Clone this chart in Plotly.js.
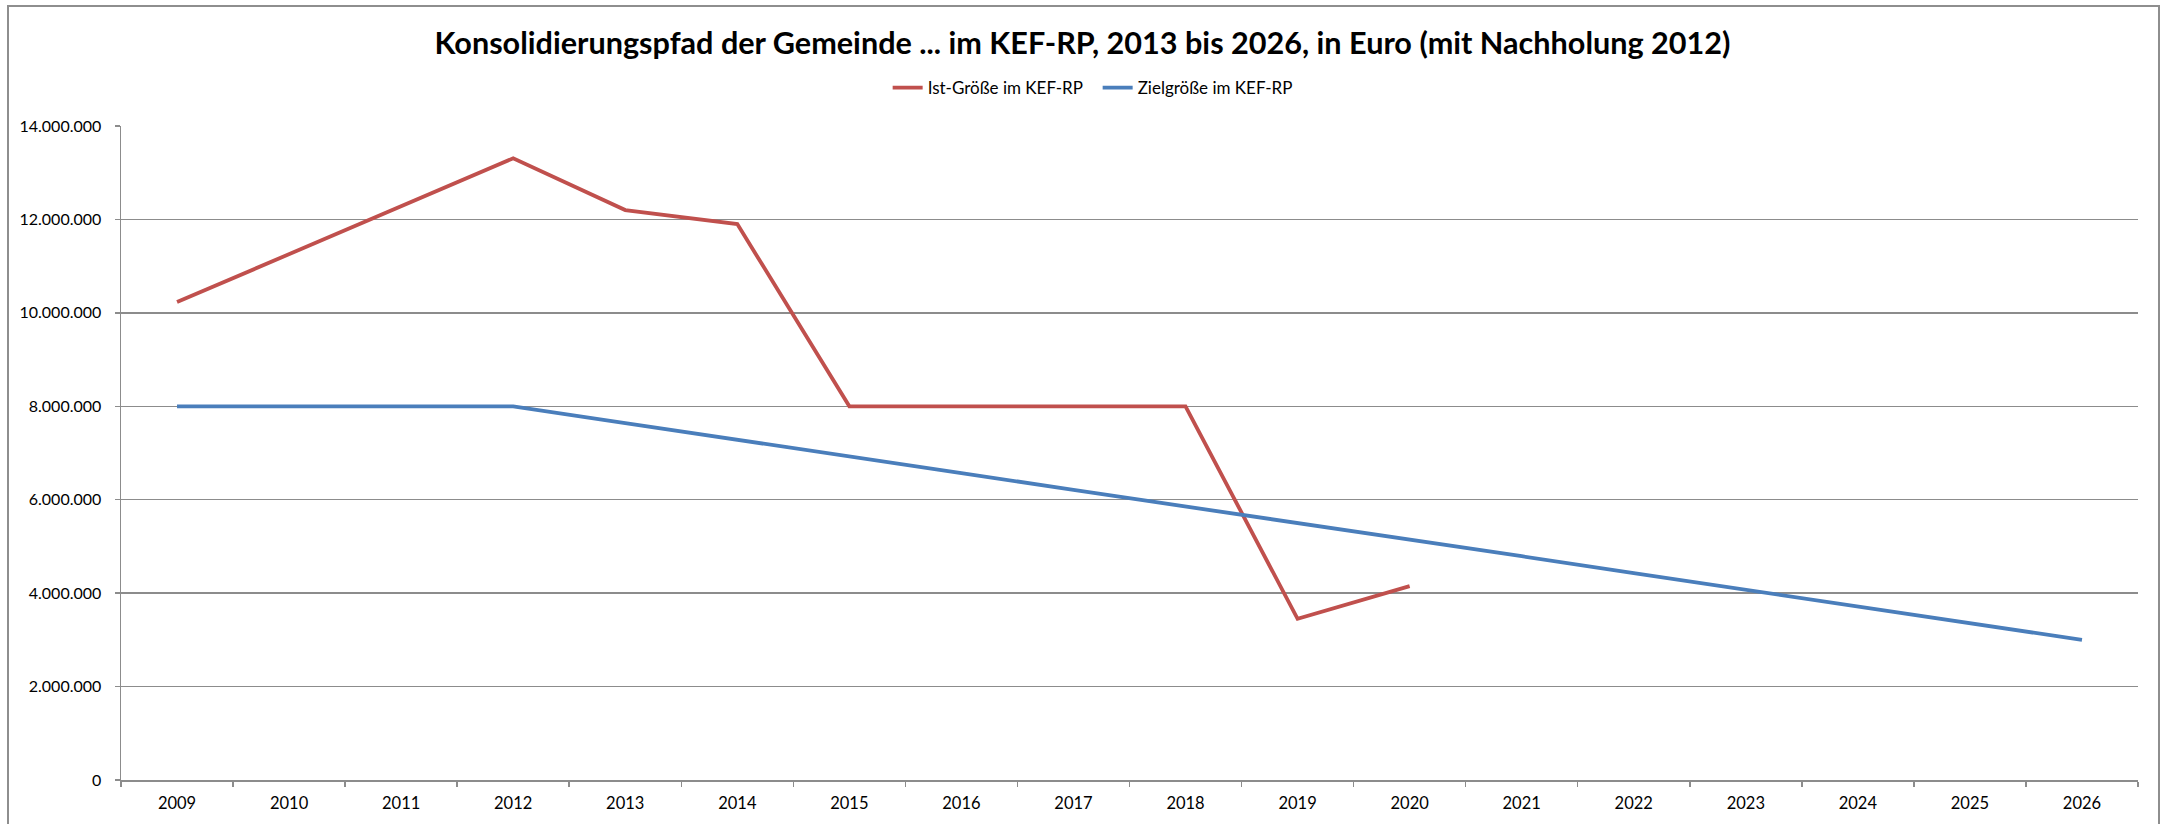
<!DOCTYPE html>
<html>
<head>
<meta charset="utf-8">
<script src="https://cdn.plot.ly/plotly-3.0.1.min.js"></script>
<style>
  html, body { margin: 0; padding: 0; background: #fff; overflow: hidden; }
  #wrap { position: relative; width: 2165px; height: 824px; }
  #chart { width: 2165px; height: 824px; }
  #frame { position: absolute; left: 7px; top: 5px; width: 2153px; height: 900px;
           border: 2px solid #8e8e8e; pointer-events: none; box-sizing: border-box; }
</style>
</head>
<body>
<div id="wrap">
  <div id="chart"></div>
  <div id="frame"></div>
</div>
<script>
const years = ['2009','2010','2011','2012','2013','2014','2015','2016','2017','2018',
               '2019','2020','2021','2022','2023','2024','2025','2026'];
const istYears = ['2009','2010','2011','2012','2013','2014','2015','2016','2017','2018','2019','2020'];
const istValues = [10230000, 11250000, 12280000, 13310000, 12200000, 11900000,
                   8000000, 8000000, 8000000, 8000000, 3450000, 4150000];
const zielValues = [8000000, 8000000, 8000000, 8000000, 7640000, 7290000, 6930000,
                    6570000, 6210000, 5860000, 5500000, 5140000, 4790000, 4430000,
                    4070000, 3710000, 3360000, 3000000];
const yTicks = [0, 2000000, 4000000, 6000000, 8000000, 10000000, 12000000, 14000000];
const titleText = 'Konsolidierungspfad der Gemeinde ... im KEF-RP, 2013 bis 2026, in Euro (mit Nachholung 2012)';
const istName = 'Ist-Größe im KEF-RP';
const zielName = 'Zielgröße im KEF-RP';

const gridColor = '#8c8c8c';
const font = 'Lato, Calibri, "Open Sans", sans-serif';

const traces = [
  { x: istYears, y: istValues, name: istName, type: 'scatter', mode: 'lines',
    line: { color: '#C0504D', width: 3.8 }, hoverinfo: 'skip' },
  { x: years, y: zielValues, name: zielName, type: 'scatter', mode: 'lines',
    line: { color: '#4A7EBB', width: 3.8 }, hoverinfo: 'skip' }
];

const layout = {
  width: 2165, height: 824,
  margin: { l: 121, r: 27, t: 126, b: 44, pad: 0 },
  paper_bgcolor: '#ffffff', plot_bgcolor: '#ffffff',
  separators: ',.',
  font: { family: font, color: '#000000', size: 16 },
  title: { text: '<b>' + titleText + '</b>', font: { family: font, size: 30.6, color: '#000' },
           x: 0.5, xref: 'container', xanchor: 'center',
           y: 1 - 43 / 824, yref: 'container', yanchor: 'middle' },
  showlegend: true,
  legend: { orientation: 'h', x: 0.507, xref: 'container', xanchor: 'center',
            y: 1 - 88 / 824, yref: 'container', yanchor: 'middle',
            font: { family: font, size: 17, color: '#000' },
            itemwidth: 30, entrywidth: 165, tracegroupgap: 0, bgcolor: 'rgba(0,0,0,0)' },
  xaxis: { type: 'category', categoryorder: 'array', categoryarray: years,
           range: [-0.5, 17.5],
           tickson: 'boundaries', ticks: 'outside', ticklen: 5, tickwidth: 1.5,
           tickcolor: gridColor, showgrid: false, showline: true, linecolor: gridColor,
           linewidth: 1.5, zeroline: false, ticklabelstandoff: 8,
           tickfont: { family: font, size: 16.5, color: '#000' }, fixedrange: true },
  yaxis: { range: [0, 14000000], tickvals: yTicks, tickformat: ',d',
           ticks: 'outside', ticklen: 5, tickwidth: 1.5, tickcolor: gridColor,
           showgrid: true, gridcolor: gridColor, gridwidth: 1.5,
           showline: true, linecolor: gridColor, linewidth: 1.5, zeroline: false,
           ticklabelstandoff: 10,
           tickfont: { family: font, size: 16, color: '#000' }, fixedrange: true }
};

Plotly.newPlot('chart', traces, layout, { displayModeBar: false, staticPlot: true });
</script>
</body>
</html>
